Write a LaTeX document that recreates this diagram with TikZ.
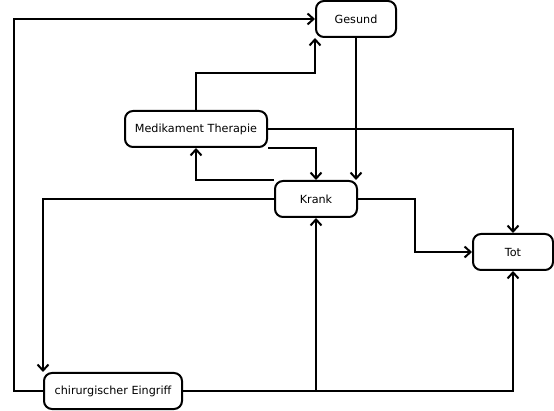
\documentclass[tikz,border=0pt]{standalone}
\usepackage{fontspec}
\setmainfont{DejaVu Sans}
\usetikzlibrary{arrows.meta}
\begin{document}
\begin{tikzpicture}[x=1pt,y=-1pt,line width=2pt,
  zustand/.style={draw,rounded corners=8pt,inner sep=0pt,minimum height=36pt,font=\fontsize{11.2}{13}\selectfont},
  pfeil/.style={-{Straight Barb[length=6pt,width=11pt,line width=2pt]}}]
\useasboundingbox (0,0) rectangle (554,411);
\node [zustand,minimum width=80pt] (gesund) at (356,19) {Gesund};
\node [zustand,minimum width=142pt] (med) at (196,129) {Medikament Therapie};
\node [zustand,minimum width=82pt] (krank) at (316,199) {Krank};
\node [zustand,minimum width=80pt] (tot) at (513,252) {Tot};
\node [zustand,minimum width=138pt] (chir) at (113,391) {chirurgischer Eingriff};
\coordinate (links) at (14,391);
\coordinate (oben) at (196,73);
\coordinate (knick) at (415,199);
\coordinate (split) at (krank.south |- chir.east);
\draw [pfeil] (chir.west) -- (links) |- (gesund.west);
\draw [pfeil] (med.north) -- (oben) -| (gesund.south west);
\draw [pfeil] (gesund.south) -- (gesund.south |- krank.north);
\draw [pfeil] (med.east) -| (tot.north);
\draw [pfeil] (med.south east) -| (krank.north);
\draw [pfeil] (krank.north west) -| (med.south);
\draw [pfeil] (krank.west) -| (chir.north west);
\draw [pfeil] (krank.east) -- (knick) |- (tot.west);
\draw [pfeil] (chir.east) -| (tot.south);
\draw [pfeil] (split) -- (krank.south);
\end{tikzpicture}
\end{document}
